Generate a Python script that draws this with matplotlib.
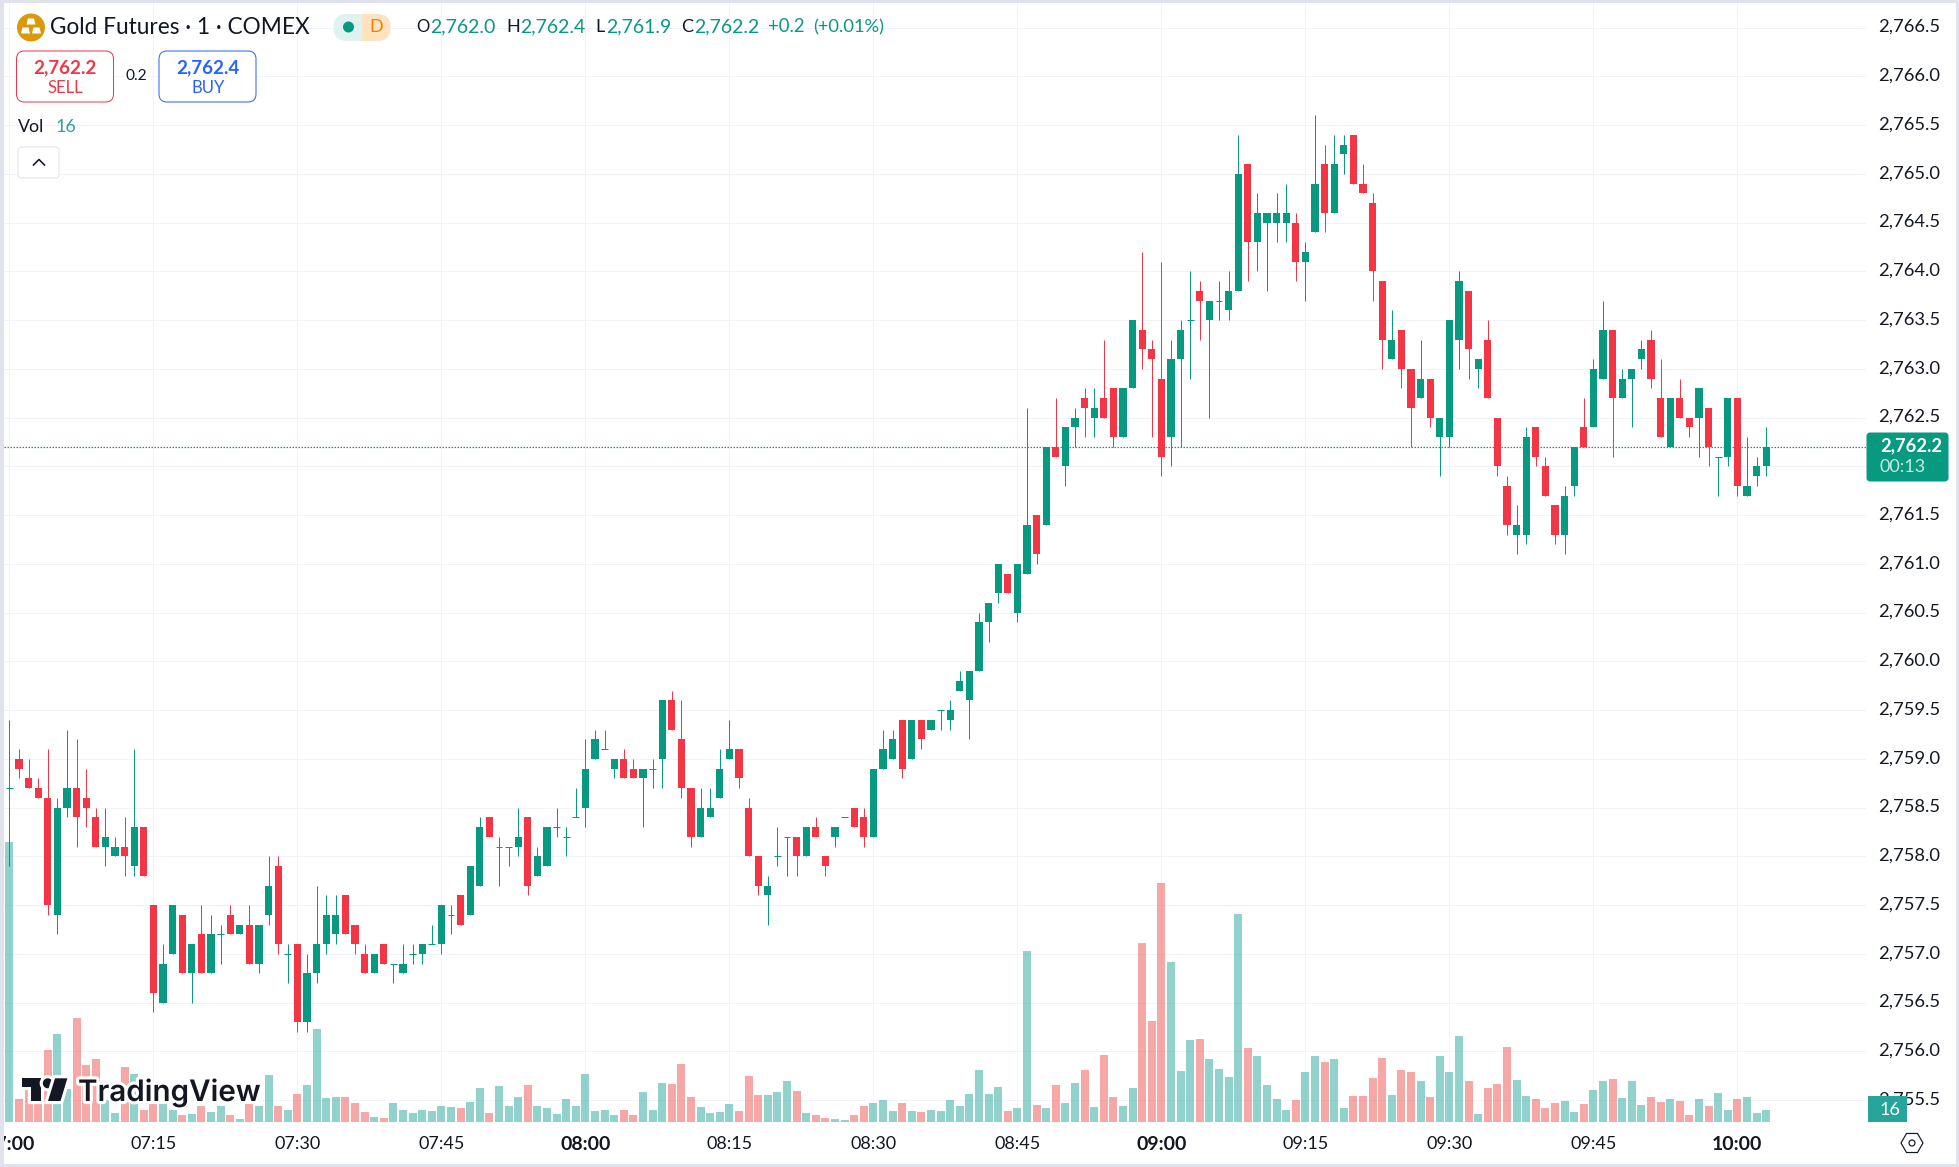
import numpy as np
import matplotlib
matplotlib.use('Agg')
import matplotlib.pyplot as plt
import matplotlib.patheffects as pe
from matplotlib.patches import Rectangle, FancyBboxPatch, Circle, Polygon, RegularPolygon
from matplotlib.ticker import FuncFormatter
from matplotlib.transforms import ScaledTranslation

W, H = 1959, 1167
plt.rcParams['font.family'] = ['Lato', 'DejaVu Sans']

# prices are stored as offset from 2750
BASE = 2750
open_ = [8.7,9.0,8.8,8.7,8.6,7.4,8.5,8.7,8.6,8.4,8.1,8.0,8.1,7.9,8.3,7.5,6.5,7.0,7.4,6.8,
         7.2,6.8,7.2,7.4,7.2,7.3,6.9,7.4,7.9,7.0,7.1,6.3,6.8,7.1,7.2,7.6,7.3,7.0,6.8,7.1,
         6.9,6.8,7.0,7.0,7.1,7.1,7.4,7.6,7.4,7.7,8.4,8.1,8.1,8.1,8.4,7.8,7.9,8.3,8.2,8.4,
         8.5,9.0,9.1,8.9,9.0,8.9,8.8,8.9,9.0,9.6,9.2,8.7,8.2,8.4,8.6,9.0,9.1,8.5,8.0,7.6,
         8.0,8.2,8.2,8.0,8.3,8.0,8.2,8.4,8.5,8.4,8.2,8.9,9.0,9.4,9.0,9.4,9.3,9.5,9.4,9.7,
         9.6,9.9,10.4,10.7,10.9,10.5,10.9,11.5,11.4,12.2,12.0,12.4,12.7,12.5,12.7,12.8,12.3,12.8,13.4,13.2,
         12.9,12.3,13.1,13.5,13.8,13.5,13.7,13.6,13.8,15.1,14.3,14.5,14.5,14.5,14.5,14.1,14.4,15.1,14.6,15.2,
         15.4,14.9,14.7,13.9,13.1,13.4,13.0,12.7,12.9,12.3,12.3,13.3,13.8,13.0,13.3,12.5,11.8,11.3,11.3,12.4,
         12.0,11.6,11.3,11.8,12.4,12.4,12.9,13.4,12.7,12.9,13.1,13.3,12.7,12.2,12.7,12.5,12.5,12.6,12.1,12.1,
         12.7,11.7,11.9,12.0]
high = [9.4,9.1,9.0,8.8,9.1,8.6,9.3,9.2,8.9,8.5,8.5,8.2,8.4,9.1,8.3,7.5,7.1,7.5,7.4,7.1,
        7.5,7.4,7.3,7.5,7.3,7.5,7.3,8.0,8.0,7.1,7.1,7.0,7.7,7.6,7.6,7.6,7.3,7.1,7.0,7.1,
        6.9,7.1,7.1,7.1,7.3,7.5,7.5,7.6,7.9,8.4,8.4,8.2,8.1,8.5,8.4,8.1,8.3,8.5,8.3,8.7,
        9.2,9.3,9.3,9.0,9.1,9.0,8.9,9.0,9.6,9.7,9.6,8.7,8.7,8.7,9.1,9.4,9.1,8.6,8.0,7.8,
        8.3,8.2,8.2,8.3,8.4,8.0,8.3,8.4,8.5,8.5,8.9,9.3,9.3,9.4,9.4,9.4,9.4,9.5,9.6,9.9,
        9.9,10.5,10.6,11.0,10.9,11.0,12.6,11.5,12.2,12.7,12.4,12.6,12.8,12.8,13.3,12.8,12.8,13.5,14.2,13.3,
        14.1,13.3,13.5,14.0,13.9,13.7,13.9,14.0,15.4,15.1,14.8,14.6,14.8,14.9,14.6,14.3,15.6,15.3,15.4,15.4,
        15.4,15.1,14.8,13.9,13.6,13.4,13.0,13.3,12.9,12.5,13.5,14.0,13.8,13.1,13.5,12.5,11.9,11.6,12.4,12.4,
        12.1,11.6,11.8,12.2,12.7,13.1,13.7,13.4,13.0,13.0,13.3,13.4,13.1,12.7,12.9,12.5,12.8,12.6,12.1,12.7,
        12.7,12.3,12.1,12.4]
low = [7.9,8.8,8.7,8.6,7.4,7.2,8.4,8.1,8.3,8.1,7.9,8.0,7.8,7.8,7.8,6.4,6.5,7.0,6.8,6.5,
       6.8,6.8,6.9,7.2,7.2,6.9,6.8,7.3,7.0,6.7,6.2,6.2,6.7,7.0,7.1,7.2,7.0,6.8,6.8,6.9,
       6.7,6.8,6.9,6.9,7.1,7.0,7.2,7.3,7.4,7.7,8.2,7.7,7.9,8.0,7.6,7.8,7.9,8.2,8.0,8.4,
       8.3,9.0,9.1,8.8,8.8,8.8,8.3,8.7,8.7,9.3,8.6,8.1,8.2,8.4,8.6,9.0,8.7,8.0,7.6,7.3,
       7.9,7.8,7.8,8.0,8.2,7.8,8.1,8.4,8.3,8.1,8.2,8.9,9.0,8.8,9.0,9.1,9.3,9.3,9.3,9.7,
       9.2,9.9,10.2,10.6,10.7,10.4,10.9,11.0,11.4,12.1,11.8,12.2,12.3,12.3,12.5,12.2,12.3,12.8,13.0,12.3,
       11.9,12.0,12.2,12.9,13.3,12.5,13.5,13.5,13.8,13.9,14.0,13.8,14.3,14.3,13.9,13.7,14.4,14.4,14.6,15.0,
       14.9,14.8,13.7,13.0,13.1,12.8,12.2,12.7,12.4,11.9,12.2,13.0,12.9,12.8,12.7,11.9,11.3,11.1,11.2,12.0,
       11.7,11.2,11.1,11.7,12.2,12.4,12.9,12.1,12.7,12.4,13.0,12.8,12.3,12.2,12.5,12.3,12.1,12.0,11.7,12.0,
       11.7,11.7,11.8,11.9]
close = [8.7,8.9,8.7,8.6,7.5,8.5,8.7,8.4,8.5,8.1,8.2,8.1,8.0,8.3,7.8,6.6,6.9,7.5,6.8,7.1,
         6.8,7.2,7.2,7.2,7.3,6.9,7.3,7.7,7.1,7.0,6.3,6.8,7.1,7.4,7.4,7.2,7.1,6.8,7.0,6.9,
         6.9,6.9,7.0,7.1,7.1,7.5,7.4,7.3,7.9,8.3,8.2,8.1,8.1,8.2,7.7,8.0,8.3,8.3,8.2,8.4,
         8.9,9.2,9.1,9.0,8.8,8.8,8.9,8.9,9.6,9.3,8.7,8.2,8.5,8.5,8.9,9.1,8.8,8.0,7.7,7.7,
         8.0,8.2,8.0,8.3,8.2,7.9,8.3,8.4,8.3,8.2,8.9,9.1,9.2,8.9,9.4,9.2,9.4,9.5,9.5,9.8,
         9.9,10.4,10.6,11.0,10.7,11.0,11.4,11.1,12.2,12.1,12.4,12.5,12.6,12.6,12.5,12.3,12.8,13.5,13.2,13.1,
         12.1,13.1,13.4,13.5,13.7,13.7,13.7,13.8,15.0,14.3,14.6,14.6,14.6,14.6,14.1,14.2,14.9,14.6,15.1,15.3,
         14.9,14.8,14.0,13.3,13.3,13.0,12.6,12.9,12.5,12.5,13.5,13.9,13.2,13.1,12.7,12.0,11.4,11.4,12.3,12.1,
         11.7,11.3,11.7,12.2,12.2,13.0,13.4,12.7,12.9,13.0,13.2,12.9,12.3,12.7,12.5,12.4,12.8,12.2,12.1,12.7,
         11.8,11.8,12.0,12.2]
volume = [373,31,43,24,96,117,44,139,76,84,29,12,73,64,16,24,24,16,9,11,
          21,13,21,9,4,24,21,63,21,16,37,49,124,32,33,33,25,13,7,5,
          25,16,12,16,15,21,20,19,27,45,12,48,21,33,49,21,19,11,31,21,
          64,15,16,9,16,9,40,16,52,51,77,33,20,12,13,24,15,61,36,36,
          40,55,41,12,9,5,4,3,9,21,25,29,15,25,15,13,16,15,29,21,
          37,69,37,47,15,19,228,23,19,49,25,52,69,20,89,33,21,45,239,135,
          319,213,68,109,111,84,71,60,277,99,88,49,31,16,29,67,88,80,84,19,
          35,35,59,85,36,69,67,55,33,88,67,115,55,11,45,51,100,56,35,31,
          19,25,28,13,24,43,55,57,32,55,23,33,27,31,28,9,31,21,39,16,
          31,33,12,16]
time_ticks = [0,15,30,45,60,75,90,105,120,135,150,165,180]
time_labels = ['07:00','07:15','07:30','07:45','08:00','08:15','08:30','08:45','09:00','09:15','09:30','09:45','10:00']
price_ticks = np.arange(2755.5, 2767.0, 0.5)
last_price = 2762.2

GREEN = '#089981'
RED = '#F23645'
TEXT = '#131722'
GRID = '#F0F3FA'
PX = 0.72  # one pixel in points at dpi 100

o = BASE + np.array(open_)
h = BASE + np.array(high)
l = BASE + np.array(low)
c = BASE + np.array(close)
idx = np.arange(len(o))
up = c >= o


def price_label(v, p):
    # the 2,762.0 label sits under the last price tag, so it never shows
    if abs(v - 2762.0) < 0.01:
        return ''
    return '{:,.1f}'.format(v)


fig = plt.figure(figsize=(W / 100, H / 100), dpi=100, facecolor='white')

# pane in pixels: x 4..1866, y 3..1122
x0, x1, y0, y1 = 4, 1866, 3, 1122
pos = [x0 / W, 1 - y1 / H, (x1 - x0) / W, (y1 - y0) / H]

ax = fig.add_axes(pos, zorder=1)
ax.set_xlim((x0 - 9.4) / 9.6, (x1 - 9.4) / 9.6)
ax.set_ylim(2764 - (y1 - 271.3) / 97.5, 2764 + (271.3 - y0) / 97.5)
ax.set_xticks(time_ticks)
ax.set_xticklabels(time_labels)
ax.set_yticks(price_ticks)
ax.yaxis.set_major_formatter(FuncFormatter(price_label))
ax.yaxis.tick_right()
ax.tick_params(axis='y', length=0, pad=8.6, labelsize=13.2, labelcolor=TEXT)
ax.tick_params(axis='x', length=0, pad=10, labelsize=13, labelcolor=TEXT)
for lab in ax.get_xticklabels():
    if lab.get_text().endswith(':00'):
        lab.set_fontweight('bold')
        lab.set_fontsize(14)
up_shift = ScaledTranslation(0, 2 / 100, fig.dpi_scale_trans)
for lab in ax.get_yticklabels():
    lab.set_transform(lab.get_transform() + up_shift)
ax.grid(True, color=GRID, lw=1 * PX)
ax.set_axisbelow(True)
for s in ax.spines.values():
    s.set_visible(False)
ax.patch.set_alpha(0)

# volume shares the pane, 0.75 px per contract
axv = fig.add_axes(pos, zorder=2)
axv.set_xlim(ax.get_xlim())
axv.set_ylim(0, (y1 - y0) / 0.75)
axv.axis('off')
vol_colors = np.where(up, '#26A69A', '#EF5350')
axv.bar(idx, volume, width=0.84, color=vol_colors, alpha=0.5, lw=0)

# candles
axc = fig.add_axes(pos, zorder=3)
axc.set_xlim(ax.get_xlim())
axc.set_ylim(ax.get_ylim())
axc.axis('off')
colors = np.where(up, GREEN, RED)
last_line = axc.axhline(last_price, color=GREEN, lw=1.2 * PX, ls=(0, (1.25, 1.25)), zorder=0.5)
last_line.set_snap(True)
last_line.set_dash_capstyle('butt')
axc.vlines(idx, l, h, colors=colors, lw=1 * PX)
body = np.abs(c - o)
bottom = np.minimum(o, c)
flat = body == 0
axc.bar(idx[~flat], body[~flat], bottom=bottom[~flat], width=0.73, color=colors[~flat], lw=0)
axc.hlines(c[flat], idx[flat] - 0.36, idx[flat] + 0.36, colors=colors[flat], lw=1 * PX)

# overlay in pixel coordinates for the TradingView furniture
ui = fig.add_axes([0, 0, 1, 1], zorder=5)
ui.set_xlim(0, W)
ui.set_ylim(H, 0)
ui.axis('off')


def txt(x, y, s, color=TEXT, size=12, ha='left', weight='normal', **kw):
    return ui.text(x, y, s, color=color, fontsize=size, ha=ha, va='center', fontweight=weight, **kw)


def rbox(x, y, w, h_, r, fc, ec, lw=1.0):
    ui.add_patch(FancyBboxPatch((x + r, y + r), w - 2 * r, h_ - 2 * r,
                                boxstyle='round,pad=%f,rounding_size=%f' % (r, r),
                                fc=fc, ec=ec, lw=lw * PX))


# window border
for r in [(0, 0, 4, H), (0, 0, W, 3), (W - 3, 0, 3, H), (0, H - 3, W, 3)]:
    ui.add_patch(Rectangle((r[0], r[1]), r[2], r[3], fc='#E0E3EB', ec='none'))

# symbol icon
ui.add_patch(Circle((31, 27.5), 14, fc='#D89A0C', ec='none'))
for bx, by in [(31, 21.5), (25.5, 30.5), (36.5, 30.5)]:
    ui.add_patch(Polygon([(bx - 4.5, by + 3), (bx + 4.5, by + 3), (bx + 3, by - 3), (bx - 3, by - 3)], fc='white', ec='none'))
txt(50, 27, 'Gold Futures · 1 · COMEX', size=16.3)

# market status pill
ui.add_patch(FancyBboxPatch((347, 27.5), 30, 0, boxstyle='round,pad=13.5,rounding_size=13.5', fc='#DFF2EF', ec='none'))
right = FancyBboxPatch((347, 27.5), 30, 0, boxstyle='round,pad=13.5,rounding_size=13.5', fc='#FFE3BF', ec='none')
ui.add_patch(right)
right.set_clip_path(Rectangle((362, 10), 40, 40, transform=ui.transData))
ui.add_patch(Circle((348.5, 27), 5.5, fc=GREEN, ec='none'))
txt(376, 27, 'D', color='#F57C00', size=13, ha='center')

# OHLC line
for x, s, col, fs in [(416, 'O', TEXT, 12), (430, '2,762.0', GREEN, 14), (506, 'H', TEXT, 13), (520, '2,762.4', GREEN, 14),
                      (595, 'L', TEXT, 13), (606, '2,761.9', GREEN, 14), (681, 'C', TEXT, 13), (694, '2,762.2', GREEN, 14),
                      (768, '+0.2', GREEN, 13.4), (813, '(+0.01%)', GREEN, 13.2)]:
    txt(x, 27, s, color=col, size=fs)

# sell / buy
rbox(16.5, 51, 97, 51, 8, 'white', RED)
txt(65, 68, '2,762.2', color=RED, size=13.6, ha='center', weight='bold')
txt(65, 88, 'SELL', color=RED, size=12, ha='center')
txt(136.5, 76, '0.2', size=11.2, ha='center')
rbox(159, 51, 97, 51, 8, 'white', '#2962FF')
txt(208, 68, '2,762.4', color='#2962FF', size=13.6, ha='center', weight='bold')
txt(208, 88, 'BUY', color='#2962FF', size=12, ha='center')

# volume legend and collapse button
txt(17.5, 127, 'Vol', size=12.8)
txt(56, 127, '16', color='#26A69A', size=12.8)
rbox(18, 147, 41, 31, 3, 'white', '#E0E3EB')
ui.plot([33.5, 39, 44.5], [165, 159.5, 165], color=TEXT, lw=1.6 * PX)

# price tags
rbox(1867, 433, 81, 48, 3, GREEN, GREEN)
txt(1880, 446, '2,762.2', color='white', size=13.2, weight='bold')
txt(1880, 467, '00:13', color='#C4EAE3', size=13)
ui.add_patch(Rectangle((1868, 1096), 39, 26, fc='#26A69A', ec='none'))
txt(1890, 1110, '16', color='white', size=13, ha='center')

# settings hexagon
ui.add_patch(RegularPolygon((1912, 1143), 6, radius=11, orientation=np.pi / 2, fc='none', ec=TEXT, lw=1.2 * PX))
ui.add_patch(Circle((1912, 1143), 3, fc='none', ec=TEXT, lw=1.2 * PX))

# watermark
halo = [pe.withStroke(linewidth=4.5, foreground='white')]
mark = [
    Polygon([(21.8, 1078.3), (41, 1078.3), (41, 1101), (31.4, 1101), (31.4, 1087.3), (21.8, 1087.3)], fc=TEXT, ec='none'),
    Circle((47.8, 1083.3), 5, fc=TEXT, ec='none'),
    Polygon([(55, 1078.3), (67.4, 1078.3), (60.5, 1101), (48, 1101)], fc=TEXT, ec='none'),
]
for m in mark:
    m.set_path_effects([pe.withStroke(linewidth=4.5, foreground='white')])
    ui.add_patch(m)
ui.text(78, 1101, 'TradingView', color=TEXT, fontsize=21.3, fontweight='semibold', ha='left', va='baseline',
        family=['Inter', 'DejaVu Sans'], path_effects=halo)

fig.savefig('out.png', dpi=100, facecolor='white')
